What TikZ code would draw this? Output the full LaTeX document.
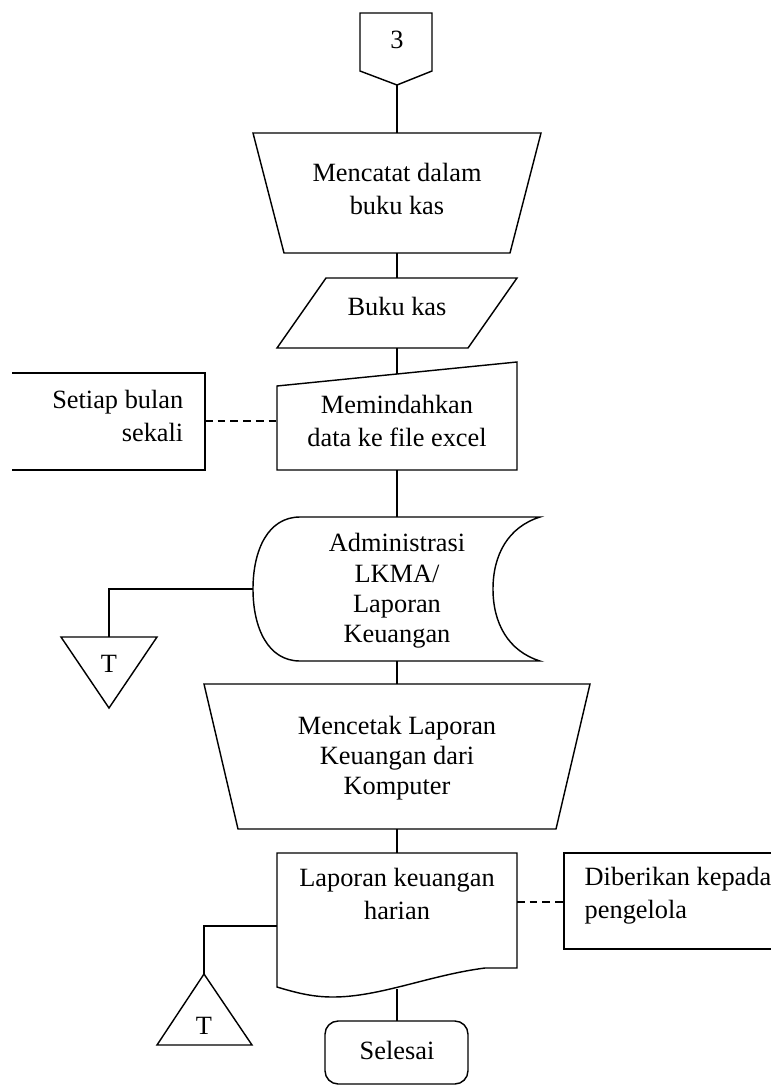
\documentclass[tikz,border=0pt]{standalone}
\usepackage{fontspec}
\setmainfont{Liberation Serif}

\begin{document}
\begin{tikzpicture}[x=0.016cm,y=-0.016cm,line width=0.65pt,
    lbl/.style={align=center,inner sep=0pt,font=\fontsize{12}{15}\selectfont},
    rapat/.style={font=\fontsize{12}{13.8}\selectfont},
    ket/.style={dash pattern=on 3.5pt off 2.3pt}]
    \useasboundingbox (0,0) rectangle (770,1088);

    \draw (360,13) -- (432,13) -- (432,71) -- (397,85) -- (360,71) -- cycle;
    \node[lbl] (tiga) at (397,40) {3};
    \coordinate (tiga-s) at (397,85);

    \draw (253,133) -- (541,133) -- (510,253) -- (284,253) -- cycle;
    \node[lbl] (catat) at (397,189) {Mencatat dalam\\buku kas};
    \coordinate (catat-n) at (397,133);
    \coordinate (catat-s) at (397,253);

    \draw (326,278) -- (517,278) -- (468,348) -- (277,348) -- cycle;
    \node[lbl] (bukukas) at (397,306) {Buku kas};
    \coordinate (bukukas-n) at (397,278);
    \coordinate (bukukas-s) at (397,348);

    \draw (277,386) -- (517,362) -- (517,470) -- (277,470) -- cycle;
    \node[lbl] (pindah) at (397,421) {Memindahkan\\data ke file excel};
    \coordinate (pindah-n) at (397,374);
    \coordinate (pindah-s) at (397,470);
    \coordinate (pindah-w) at (277,421);

    \draw (12,373) -- (205,373) -- (205,470) -- (12,470);
    \node[lbl,align=right,anchor=east] (bulan) at (184,416) {Setiap bulan\\sekali};
    \coordinate (bulan-e) at (205,421);

    \draw (300,517) -- (540,517) .. controls (508,527) and (493,555) .. (493,589)
        .. controls (493,623) and (508,651) .. (540,661) -- (300,661)
        .. controls (268,661) and (253,628) .. (253,589)
        .. controls (253,550) and (268,517) .. cycle;
    \node[lbl,rapat] (admin) at (397,591) {Administrasi\\LKMA/\\Laporan\\Keuangan};
    \coordinate (admin-n) at (397,517);
    \coordinate (admin-s) at (397,661);
    \coordinate (admin-w) at (253,589);

    \draw (61,637) -- (157,637) -- (109,708) -- cycle;
    \node[lbl] (t1) at (109,664) {T};
    \coordinate (t1-n) at (109,637);

    \draw (204,684) -- (590,684) -- (556,829) -- (238,829) -- cycle;
    \node[lbl,rapat] (cetak) at (397,758) {Mencetak Laporan\\Keuangan dari\\Komputer};
    \coordinate (cetak-n) at (397,684);
    \coordinate (cetak-s) at (397,829);

    \draw (277,853) -- (517,853) -- (517,968) -- (485,968)
        .. controls (430,975) and (380,997) .. (333,997)
        .. controls (315,997) and (300,994) .. (277,987) -- cycle;
    \node[lbl] (lapor) at (397,894) {Laporan keuangan\\harian};
    \coordinate (lapor-n) at (397,853);
    \coordinate (lapor-s) at (397,989);
    \coordinate (lapor-w) at (277,926);
    \coordinate (lapor-e) at (517,902);

    \draw (775,853) -- (564,853) -- (564,949) -- (775,949);
    \node[lbl,align=left,anchor=west] (beri) at (584,896) {Diberikan kepada\\pengelola};
    \coordinate (beri-w) at (564,902);

    \draw (204,974) -- (252,1045) -- (157,1045) -- cycle;
    \node[lbl] (t2) at (204,1026) {T};
    \coordinate (t2-n) at (204,974);

    \draw[rounded corners=6pt] (325,1021) rectangle (468,1084);
    \node[lbl] (selesai) at (397,1050) {Selesai};
    \coordinate (selesai-n) at (397,1021);

    \draw (tiga-s) -- (catat-n);
    \draw (catat-s) -- (bukukas-n);
    \draw (bukukas-s) -- (pindah-n);
    \draw (pindah-s) -- (admin-n);
    \draw (admin-s) -- (cetak-n);
    \draw (cetak-s) -- (lapor-n);
    \draw (lapor-s) -- (selesai-n);
    \draw (admin-w) -| (t1-n);
    \draw (lapor-w) -| (t2-n);
    \draw[ket] (bulan-e) -- (pindah-w);
    \draw[ket] (lapor-e) -- (beri-w);
\end{tikzpicture}
\end{document}
